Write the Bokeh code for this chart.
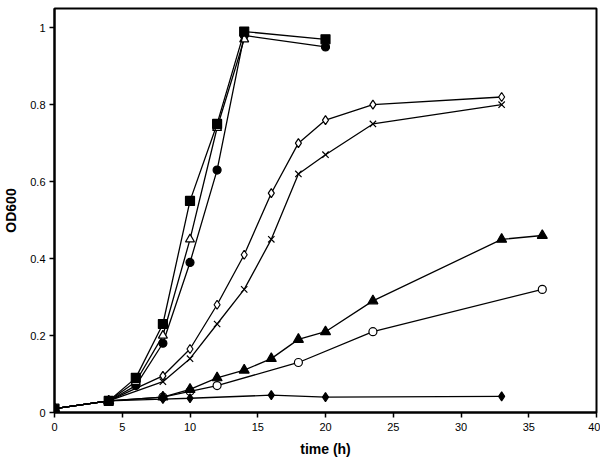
from bokeh.plotting import figure
from bokeh.models import FixedTicker, Range1d
from bokeh.embed import file_html
from bokeh.resources import INLINE

# Data
sq_x = [0, 4, 6, 8, 10, 12, 14, 20]
sq_y = [0.01, 0.03, 0.09, 0.23, 0.55, 0.75, 0.99, 0.97]

otri_x = [0, 4, 6, 8, 10, 12, 14]
otri_y = [0.01, 0.03, 0.08, 0.20, 0.45, 0.74, 0.97]

fcirc_x = [0, 4, 6, 8, 10, 12, 14, 20]
fcirc_y = [0.01, 0.03, 0.07, 0.18, 0.39, 0.63, 0.98, 0.95]

odia_x = [0, 4, 8, 10, 12, 14, 16, 18, 20, 23.5, 33]
odia_y = [0.01, 0.03, 0.095, 0.165, 0.28, 0.41, 0.57, 0.70, 0.76, 0.80, 0.82]

cross_x = [0, 4, 8, 10, 12, 14, 16, 18, 20, 23.5, 33]
cross_y = [0.01, 0.03, 0.08, 0.14, 0.23, 0.32, 0.45, 0.62, 0.67, 0.75, 0.80]

ftri_x = [0, 4, 8, 10, 12, 14, 16, 18, 20, 23.5, 33, 36]
ftri_y = [0.01, 0.03, 0.04, 0.06, 0.09, 0.11, 0.14, 0.19, 0.21, 0.29, 0.45, 0.46]

ocirc_x = [0, 4, 8, 10, 12, 18, 23.5, 36]
ocirc_y = [0.01, 0.03, 0.04, 0.055, 0.07, 0.13, 0.21, 0.32]

fdia_x = [0, 4, 8, 10, 16, 20, 33]
fdia_y = [0.01, 0.03, 0.035, 0.037, 0.045, 0.04, 0.042]

x_ticks = [0, 5, 10, 15, 20, 25, 30, 35, 40]
y_ticks = [0, 0.2, 0.4, 0.6, 0.8, 1.0]
y_labels = {0: "0", 0.2: "0.2", 0.4: "0.4", 0.6: "0.6", 0.8: "0.8", 1.0: "1"}

FONT = "Liberation Sans"

p = figure(frame_width=542, frame_height=404, output_backend="svg", toolbar_location=None,
           x_range=Range1d(0, 40), y_range=Range1d(0, 1.05),
           min_border_left=0, min_border_right=4, min_border_top=8, min_border_bottom=0)
p.xgrid.visible = False
p.ygrid.visible = False
p.outline_line_color = "black"
p.outline_line_width = 2
p.outline_line_alpha = 1.0
p.background_fill_color = "white"
p.border_fill_color = "white"

for ax in (p.xaxis[0], p.yaxis[0]):
    ax.axis_line_width = 2
    ax.major_tick_line_width = 1.5
    ax.major_tick_out = 5
    ax.major_tick_in = 0
    ax.minor_tick_line_color = None
    ax.major_label_text_font = FONT
    ax.major_label_text_font_size = "11px"
    ax.major_label_text_color = "black"
    ax.axis_label_text_font = FONT
    ax.axis_label_text_font_size = "14px"
    ax.axis_label_text_font_style = "bold"
    ax.axis_label_text_color = "black"

p.xaxis.ticker = FixedTicker(ticks=x_ticks)
p.yaxis.ticker = FixedTicker(ticks=y_ticks)
p.yaxis.major_label_overrides = y_labels
p.xaxis.axis_label = "time (h)"
p.yaxis.axis_label = "OD600"
p.xaxis.major_label_standoff = 5
p.yaxis.major_label_standoff = 4
p.xaxis.axis_label_standoff = 7
p.yaxis.axis_label_standoff = 8

LW = 1.3

def series(xs, ys, marker, size, fill):
    p.line(xs, ys, line_color="black", line_width=LW)
    p.scatter(xs, ys, marker=marker, size=size, line_color="black",
              fill_color=fill, line_width=1.2)

series(ocirc_x, ocirc_y, "circle", 8, "white")
series(ftri_x, ftri_y, "triangle", 10, "black")
series(fdia_x, fdia_y, "diamond", 9, "black")
series(cross_x, cross_y, "x", 9, None)
series(odia_x, odia_y, "diamond", 9, "white")
series(fcirc_x, fcirc_y, "circle", 8, "black")
series(otri_x, otri_y, "triangle", 9, "white")
series(sq_x, sq_y, "square", 9, "black")

open("out.html", "w").write(file_html(p, INLINE))
